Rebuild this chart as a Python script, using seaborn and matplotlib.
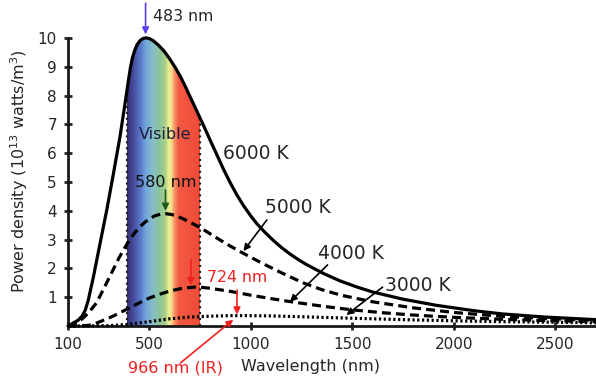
import numpy as np
import pandas as pd
import matplotlib
matplotlib.use('Agg')
import matplotlib.pyplot as plt
from matplotlib.colors import LinearSegmentedColormap
import seaborn as sns


# data (wavelength in nm, power density in 1e13 W/m^3)
wl_6000 = [100, 120, 150, 170, 185, 200, 225, 258, 291, 324, 356, 381, 390, 397, 407, 417,
           428, 440, 455, 470, 483, 500, 520, 545, 572, 600, 630, 654, 680, 703, 725, 750,
           768, 800, 834, 865, 899, 930, 964, 1000, 1030, 1070, 1111, 1150, 1193, 1235, 1275,
           1356, 1438, 1520, 1600, 1750, 1912, 2100, 2237, 2450, 2700]
pd_6000 = [0.0, 0.08, 0.2, 0.35, 0.55, 0.9, 1.7, 2.87, 4.03, 5.3, 6.57, 7.73, 8.16, 8.5, 8.95,
           9.3, 9.56, 9.76, 9.91, 9.98, 10.0, 9.98, 9.9, 9.75, 9.55, 9.28, 8.95, 8.65, 8.28,
           7.93, 7.6, 7.22, 6.95, 6.45, 5.93, 5.45, 4.97, 4.57, 4.18, 3.82, 3.55, 3.25, 2.97,
           2.73, 2.5, 2.3, 2.13, 1.83, 1.57, 1.36, 1.18, 0.93, 0.72, 0.53, 0.42, 0.31, 0.22]

wl_5000 = [100, 140, 170, 200, 240, 280, 320, 350, 380, 405, 430, 455, 480, 505, 530, 555,
           580, 610, 640, 670, 700, 750, 800, 850, 900, 964, 1050, 1150, 1257, 1350, 1450,
           1600, 1800, 2000, 2250, 2500, 2700]
pd_5000 = [0.0, 0.1, 0.25, 0.45, 0.8, 1.35, 1.92, 2.35, 2.72, 3.0, 3.25, 3.45, 3.61, 3.74,
           3.83, 3.88, 3.9, 3.87, 3.8, 3.71, 3.6, 3.42, 3.2, 2.98, 2.77, 2.52, 2.2, 1.85, 1.5,
           1.26, 1.06, 0.84, 0.63, 0.47, 0.33, 0.25, 0.2]

wl_4000 = [100, 200, 240, 300, 350, 400, 450, 500, 550, 600, 650, 690, 724, 760, 800, 900,
           1000, 1100, 1200, 1350, 1500, 1650, 1800, 2000, 2250, 2500, 2700]
pd_4000 = [0.0, 0.02, 0.1, 0.27, 0.44, 0.62, 0.8, 0.97, 1.1, 1.21, 1.29, 1.33, 1.35, 1.34,
           1.31, 1.2, 1.07, 0.95, 0.84, 0.69, 0.56, 0.46, 0.38, 0.3, 0.23, 0.18, 0.15]

wl_3000 = [100, 300, 400, 500, 600, 700, 800, 900, 966, 1100, 1300, 1500, 1750, 2000,
           2250, 2500, 2700]
pd_3000 = [0.0, 0.01, 0.06, 0.15, 0.25, 0.31, 0.34, 0.36, 0.36, 0.35, 0.31, 0.27, 0.22,
           0.18, 0.15, 0.13, 0.11]

x_ticks = [100, 500, 1000, 1500, 2000, 2500]
y_ticks = [1, 2, 3, 4, 5, 6, 7, 8, 9, 10]
vis_lo, vis_hi = 390, 750


sns.set_style('ticks')
plt.rcParams['font.family'] = ['DejaVu Sans']

fig = plt.figure(figsize=(5.96, 3.8), dpi=100)
ax = fig.add_axes([68 / 596, 1 - 326 / 380, 528 / 596, 291 / 380])

# visible band: rainbow gradient clipped under the 6000 K curve
spec = LinearSegmentedColormap.from_list('spec', [
    (0.00, '#35306e'), (0.08, '#464a9c'), (0.18, '#5a78c8'), (0.26, '#74a8dc'),
    (0.36, '#88bfc4'), (0.44, '#8cc49a'), (0.52, '#a9d088'), (0.56, '#e9ee92'),
    (0.60, '#f6e28a'), (0.64, '#f7966a'), (0.70, '#f25a44'), (1.00, '#ef4a38')])
vis = [(w, v) for w, v in zip(wl_6000, pd_6000) if vis_lo <= w <= vis_hi]
poly = ax.fill_between([w for w, _ in vis], 0, [v for _, v in vis],
                       facecolor='none', edgecolor='none')
im = ax.imshow(np.linspace(0, 1, 256)[None, :], extent=[vis_lo, vis_hi, 0, 10.1],
               cmap=spec, aspect='auto', zorder=1)
im.set_clip_path(poly.get_paths()[0], transform=ax.transData)
ax.plot([vis_lo, vis_lo], [0, vis[0][1]], ls=':', color='#222222', lw=1.6, zorder=2)
ax.plot([vis_hi, vis_hi], [0, vis[-1][1]], ls=':', color='#222222', lw=1.6, zorder=2)

# curves
curves = [(wl_6000, pd_6000, ''), (wl_5000, pd_5000, (2.8, 1.6)),
          (wl_4000, pd_4000, (2.8, 1.6)), (wl_3000, pd_3000, (0.7, 0.8))]
for wl, pdv, dash in curves:
    df = pd.DataFrame({'wl': wl, 'p': pdv})
    sns.lineplot(data=df, x='wl', y='p', ax=ax, color='black', lw=2.3, zorder=3)
    line = ax.lines[-1]
    if dash:
        line.set_dashes(dash)
    line.set_clip_on(False)
    line.set_solid_joinstyle('round')

ax.set_xlim(100, 2700)
ax.set_ylim(0, 10.1)
ax.set_xticks(x_ticks)
ax.set_yticks(y_ticks)
ax.tick_params(axis='both', direction='inout', length=6, width=2, labelsize=11, pad=5)
for s in ['top', 'right']:
    ax.spines[s].set_visible(False)
for s in ['left', 'bottom']:
    ax.spines[s].set_linewidth(2)
    ax.spines[s].set_color('#1a1a1a')
ax.spines['left'].set_bounds(0, 10)

ax.set_xlabel('Wavelength (nm)', fontsize=11.5)
ax.xaxis.set_label_coords(0.46, -0.115)
ax.set_ylabel('Power density (10$^{13}$ watts/m$^3$)', fontsize=11.5)
ax.yaxis.set_label_coords(-0.072, 0.533)

# annotations
arr = dict(arrowstyle='-|>', lw=1.2, mutation_scale=10, shrinkA=0, shrinkB=0)

ax.annotate('', xy=(482, 10.12), xytext=(482, 11.2), annotation_clip=False,
            arrowprops=dict(arr, color='#5a40e8'))
ax.text(517, 10.73, '483 nm', fontsize=11.3, va='center', ha='left', clip_on=False)

ax.text(580, 6.63, 'Visible', fontsize=11.5, ha='center', va='center', color='#1c1c3c')
ax.text(580, 4.97, '580 nm', fontsize=11.5, ha='center', va='center', color='#101010')
ax.annotate('', xy=(580, 4.0), xytext=(580, 4.72), arrowprops=dict(arr, color='#1f5a1f'))

ax.annotate('', xy=(705, 1.42), xytext=(705, 2.3), arrowprops=dict(arr, color='#f02020'))
ax.text(786, 1.67, '724 nm', fontsize=11.3, ha='left', va='center', color='#f02020')
ax.annotate('', xy=(932, 0.4), xytext=(932, 1.25), arrowprops=dict(arr, color='#f02020'))
ax.annotate('', xy=(914, 0.22), xytext=(654, -1.28), annotation_clip=False,
            arrowprops=dict(arr, color='#f02020'))
ax.text(627, -1.46, '966 nm (IR)', fontsize=11.5, ha='center', va='center',
        color='#f02020', clip_on=False)

ax.text(865, 6.0, '6000 K', fontsize=13.5, ha='left', va='center')
ax.text(1070, 4.1, '5000 K', fontsize=13.5, ha='left', va='center')
ax.annotate('', xy=(964, 2.6), xytext=(1079, 3.68), arrowprops=dict(arr, color='black'))
ax.text(1330, 2.53, '4000 K', fontsize=13.5, ha='left', va='center')
ax.annotate('', xy=(1193, 0.84), xytext=(1378, 2.12), arrowprops=dict(arr, color='black'))
ax.text(1659, 1.42, '3000 K', fontsize=13.5, ha='left', va='center')
ax.annotate('', xy=(1471, 0.38), xytext=(1649, 1.35), arrowprops=dict(arr, color='black'))

fig.savefig('out.png', dpi=100)
